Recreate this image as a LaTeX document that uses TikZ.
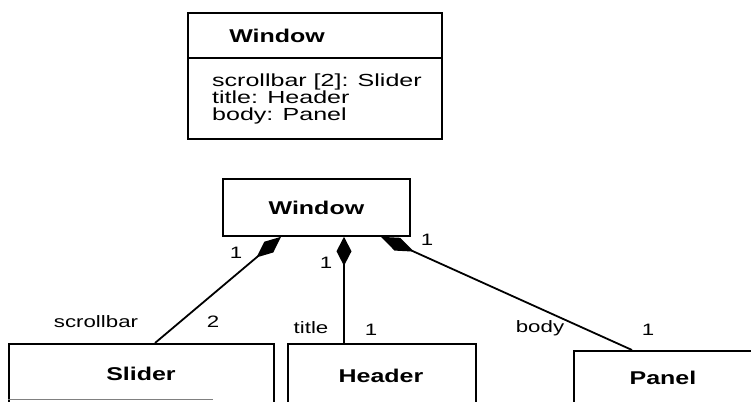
\documentclass[tikz,border=0pt]{standalone}
\usepackage{fontspec}
\setmainfont[FakeStretch=1.35]{Liberation Sans}
\newfontfamily\attrfont[FakeStretch=1.43]{Liberation Sans}
\usetikzlibrary{arrows.meta,calc}
\tikzset{
  box/.style={draw=black, line width=1.8pt, inner sep=0pt, anchor=north west},
  clsname/.style={font=\fontsize{18.5}{20}\selectfont\bfseries, inner sep=0pt},
  attr/.style={font=\attrfont\fontsize{17.5}{17}\selectfont, inner sep=0pt, anchor=north west, align=left},
  lbl/.style={font=\fontsize{16.5}{18}\selectfont, inner sep=0pt},
  compA/.style={line width=1.8pt, {Diamond[length=32pt,width=14pt]}-},
  compB/.style={line width=1.8pt, {Diamond[length=29pt,width=15pt]}-},
  compC/.style={line width=1.8pt, {Diamond[length=36pt,width=14pt]}-}
}
\begin{document}
\begin{tikzpicture}[x=1pt,y=-1pt]
\useasboundingbox (0,0) rectangle (751,401);
\clip (0,0) rectangle (751,401);
% class box (top)
\node[box, minimum width=254pt, minimum height=126pt] (wcls) at (187,12) {};
\draw[line width=1.8pt] (wcls.west |- 0,58) -- (wcls.east |- 0,58);
\node[clsname] (wclsname) at (277,36) {Window};
\node[attr] (attrs) at (212,74) {scrollbar [2]: Slider\\title: Header\\body: Panel};
% object diagram
\node[box, minimum width=187pt, minimum height=57pt] (win) at (222,178) {};
\node[clsname] (winname) at (win.center) {Window};
\node[box, minimum width=265pt, minimum height=90pt] (slider) at (8,343) {};
\node[clsname] (slidername) at (141,374) {Slider};
\node[box, minimum width=188pt, minimum height=90pt] (header) at (287,343) {};
\node[clsname] (headername) at (381,376) {Header};
\node[box, minimum width=200pt, minimum height=90pt] (panel) at (573,350) {};
\node[clsname] (panelname) at (663,378) {Panel};
\draw[gray, line width=1pt] (slider.west |- 0,399.5) -- ++(205,0);
% compositions
\draw[compA] ([xshift=59pt]win.south west) -- ([xshift=147pt]slider.north west);
\draw[compB] ([xshift=122pt]win.south west) -- ([xshift=57pt]header.north west);
\draw[compC] ([xshift=159pt]win.south west) -- ([xshift=59pt]panel.north west);
% labels
\node[lbl] (m1) at (236,253) {1};
\node[lbl] (m2) at (326,263) {1};
\node[lbl] (m3) at (427,240) {1};
\node[lbl] (rs) at (96,322) {scrollbar};
\node[lbl] (ms) at (213,322) {2};
\node[lbl] (rt) at (311,328) {title};
\node[lbl] (mt) at (371,330) {1};
\node[lbl] (rb) at (540,328) {body};
\node[lbl] (mb) at (648,330) {1};
\end{tikzpicture}
\end{document}
